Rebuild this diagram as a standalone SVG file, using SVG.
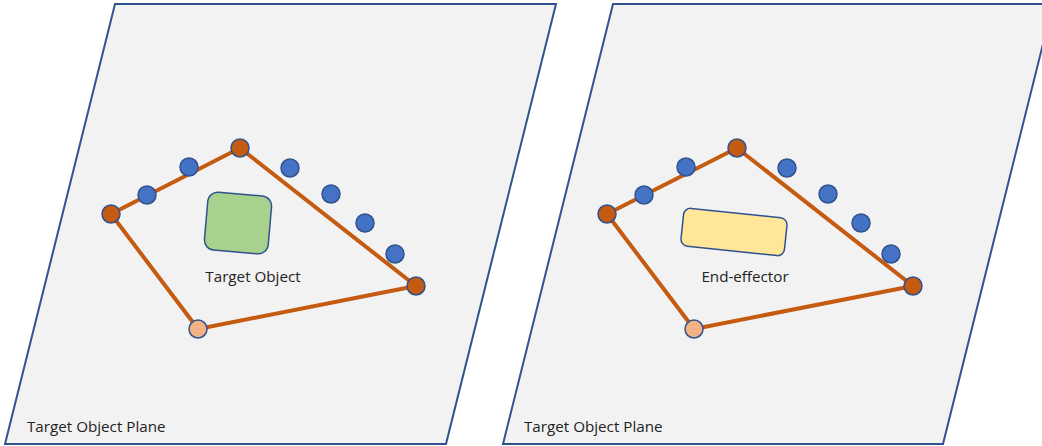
<svg xmlns="http://www.w3.org/2000/svg" width="1042" height="446" viewBox="0 0 1042 446">
<style>
.plane{fill:#F2F2F2;stroke:#2F528F;stroke-width:2}
.edge{fill:none;stroke:#C55A11;stroke-width:4;stroke-linejoin:round}
.o{fill:#C55A11;stroke:#2F528F;stroke-width:1.5}
.p{fill:#F4B183;stroke:#2F528F;stroke-width:1.5}
.b{fill:#4472C4;stroke:#2F528F;stroke-width:1.5}
.t{font-family:"Open Sans","Liberation Sans",sans-serif;font-size:15.2px;fill:#222}
</style>
<rect width="1042" height="446" fill="#fff"/>
<g id="plane-left">
<polygon class="plane" points="115,4 556,4 446,444 5,444"/>
<text class="t" x="27" y="432">Target Object Plane</text>
</g>
<g id="plane-right">
<polygon class="plane" points="613,4 1053,4 943,444 503,444"/>
<text class="t" x="524" y="432">Target Object Plane</text>
</g>
<g id="connectors">
<polygon class="edge" points="111,214 240,148 416,286 198,329"/>
<polygon class="edge" points="607,214 737,148 913,286 694,329"/>
</g>
<g id="target-object">
<rect x="206" y="194" width="64" height="58" rx="10" fill="#A9D18E" stroke="#2F528F" stroke-width="1.5" transform="rotate(5 238 223)"/>
<text class="t" x="253" y="282" text-anchor="middle">Target Object</text>
</g>
<g id="end-effector">
<rect x="682" y="213" width="104" height="38" rx="7" fill="#FFE699" stroke="#2F528F" stroke-width="1.5" transform="rotate(6 734 232)"/>
<text class="t" x="745" y="282" text-anchor="middle">End-effector</text>
</g>
<g id="points-left">
<circle class="b" cx="147" cy="195" r="9"/>
<circle class="b" cx="189" cy="167" r="9"/>
<circle class="b" cx="290" cy="168" r="9"/>
<circle class="b" cx="331" cy="194" r="9"/>
<circle class="b" cx="365" cy="223" r="9"/>
<circle class="b" cx="395" cy="254" r="9"/>
<circle class="o" cx="111" cy="214" r="9"/>
<circle class="o" cx="240" cy="148" r="9"/>
<circle class="o" cx="416" cy="286" r="9"/>
<circle class="p" cx="198" cy="329" r="9"/>
</g>
<g id="points-right">
<circle class="b" cx="644" cy="195" r="9"/>
<circle class="b" cx="686" cy="167" r="9"/>
<circle class="b" cx="787" cy="168" r="9"/>
<circle class="b" cx="828" cy="194" r="9"/>
<circle class="b" cx="861" cy="223" r="9"/>
<circle class="b" cx="891" cy="254" r="9"/>
<circle class="o" cx="607" cy="214" r="9"/>
<circle class="o" cx="737" cy="148" r="9"/>
<circle class="o" cx="913" cy="286" r="9"/>
<circle class="p" cx="694" cy="329" r="9"/>
</g>
</svg>
